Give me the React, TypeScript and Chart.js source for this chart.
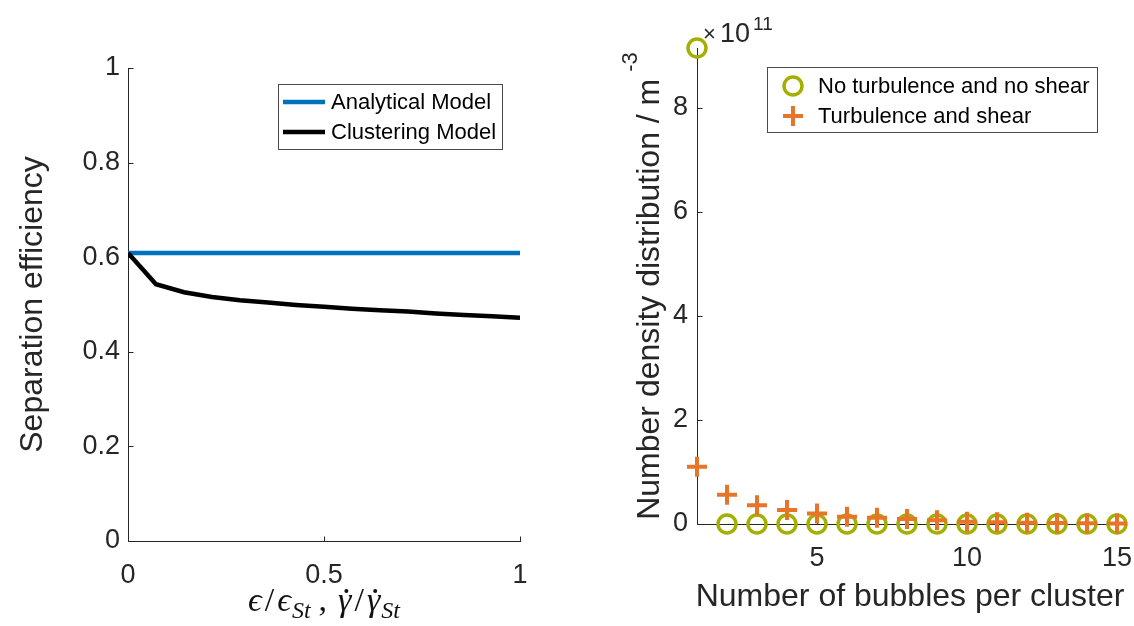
import React, { useEffect, useRef } from "react";
import { Chart, registerables } from "chart.js";
Chart.register(...registerables);

// ---------- data ----------
const ratioX = [0, 0.0714, 0.1429, 0.2143, 0.2857, 0.3571, 0.4286, 0.5, 0.5714, 0.6429, 0.7143, 0.7857, 0.8571, 0.9286, 1];
const analyticalEff = [0.609, 0.609, 0.609, 0.609, 0.609, 0.609, 0.609, 0.609, 0.609, 0.609, 0.609, 0.609, 0.609, 0.609, 0.609];
const clusteringEff = [0.609, 0.543, 0.526, 0.516, 0.509, 0.504, 0.499, 0.495, 0.491, 0.488, 0.485, 0.481, 0.478, 0.475, 0.472];

const bubblesPerCluster = [1, 2, 3, 4, 5, 6, 7, 8, 9, 10, 11, 12, 13, 14, 15];
const noTurbulence = [9.15e11, 0, 0, 0, 0, 0, 0, 0, 0, 0, 0, 0, 0, 0, 0];
const turbulenceShear = [1.1e11, 0.56e11, 0.36e11, 0.27e11, 0.2e11, 0.14e11, 0.12e11, 0.095e11, 0.07e11, 0.045e11, 0.035e11, 0.025e11, 0.02e11, 0.015e11, 0.01e11];

const leftXTicks = [0, 0.5, 1];
const leftYTicks = [0, 0.2, 0.4, 0.6, 0.8, 1];
const rightXTicks = [5, 10, 15];
const rightYTicks = [0, 2e11, 4e11, 6e11, 8e11];

const SANS = "'Liberation Sans', Arial, Helvetica, sans-serif";
const SERIF = "'Liberation Serif', 'DejaVu Serif', 'Times New Roman', serif";
const AXIS = "#262626";
const BLUE = "#0072BD";
const GREEN = "#A4B000";
const ORANGE = "#E8742A";
const TICK_FONT = 27;
const LABEL_FONT = 32;
const LEGEND_FONT = 22;

// ---------- plugins ----------
const axesPlugin = {
  id: "matlabAxes",
  beforeDatasetsDraw(chart: any) {
    const { ctx, chartArea: a, scales } = chart;
    ctx.save();
    ctx.strokeStyle = AXIS;
    ctx.lineWidth = 1;
    ctx.beginPath();
    const L = Math.round(a.left) + 0.5;
    const B = Math.round(a.bottom) + 0.5;
    ctx.moveTo(L, Math.round(a.top));
    ctx.lineTo(L, B);
    ctx.lineTo(Math.round(a.right) + 1, B);
    for (const t of scales.x.ticks) {
      const px = Math.round(scales.x.getPixelForValue(t.value)) + 0.5;
      ctx.moveTo(px, B);
      ctx.lineTo(px, B - 5);
    }
    for (const t of scales.y.ticks) {
      const py = Math.round(scales.y.getPixelForValue(t.value)) + 0.5;
      ctx.moveTo(L, py);
      ctx.lineTo(L + 5, py);
    }
    ctx.stroke();
    ctx.restore();
  },
};

function drawMarker(ctx: any, kind: string, x: number, y: number, color: string) {
  ctx.save();
  ctx.strokeStyle = color;
  ctx.beginPath();
  if (kind === "circle") {
    ctx.lineWidth = 3.5;
    ctx.arc(x, y, 9, 0, Math.PI * 2);
  } else if (kind === "cross") {
    ctx.lineWidth = 4;
    ctx.moveTo(x - 10, y);
    ctx.lineTo(x + 10, y);
    ctx.moveTo(x, y - 10);
    ctx.lineTo(x, y + 10);
  } else {
    ctx.lineWidth = 4.5;
    ctx.moveTo(x - 21, y);
    ctx.lineTo(x + 21, y);
  }
  ctx.stroke();
  ctx.restore();
}

const legendPlugin = {
  id: "boxLegend",
  afterDraw(chart: any, _args: any, opts: any) {
    if (!opts || !opts.box) return;
    const { ctx } = chart;
    const [bx, by, bw, bh] = opts.box;
    ctx.save();
    ctx.fillStyle = "#ffffff";
    ctx.fillRect(bx, by, bw, bh);
    ctx.strokeStyle = "#4a4a4a";
    ctx.lineWidth = 1;
    ctx.strokeRect(bx + 0.5, by + 0.5, bw, bh);
    ctx.font = `${LEGEND_FONT}px ${SANS}`;
    ctx.fillStyle = "#000";
    ctx.textBaseline = "middle";
    ctx.textAlign = "left";
    opts.items.forEach((it: any, i: number) => {
      const ds = chart.data.datasets[it.dataset];
      const y = opts.rows[i];
      drawMarker(ctx, it.kind, opts.sampleX, y, ds.borderColor);
      ctx.fillText(ds.label, opts.textX, y + 1);
    });
    ctx.restore();
  },
};

function drawPieces(ctx: any, pieces: any[], cx: number, baseline: number) {
  let total = 0;
  for (const p of pieces) {
    ctx.font = p.font;
    p.w = ctx.measureText(p.t).width;
    total += p.w + (p.gap || 0);
  }
  let x = cx - total / 2;
  ctx.textBaseline = "alphabetic";
  ctx.textAlign = "left";
  for (const p of pieces) {
    x += p.gap || 0;
    ctx.font = p.font;
    ctx.fillText(p.t, x, baseline + (p.dy || 0));
    if (p.dot) {
      ctx.beginPath();
      ctx.arc(x + p.w * 0.62, baseline - 20, 2, 0, Math.PI * 2);
      ctx.fill();
    }
    x += p.w;
  }
}

const leftTitlesPlugin = {
  id: "leftTitles",
  afterDraw(chart: any) {
    const { ctx, chartArea: a } = chart;
    ctx.save();
    ctx.fillStyle = AXIS;
    // y title
    ctx.translate(42, (a.top + a.bottom) / 2);
    ctx.rotate(-Math.PI / 2);
    ctx.font = `${LABEL_FONT}px ${SANS}`;
    ctx.textAlign = "center";
    ctx.textBaseline = "alphabetic";
    ctx.fillText("Separation efficiency", 0, 0);
    ctx.restore();

    ctx.save();
    ctx.fillStyle = "#111";
    const it = `italic 34px ${SERIF}`;
    const up = `34px ${SERIF}`;
    const sub = `italic 24px ${SERIF}`;
    drawPieces(
      ctx,
      [
        { t: "ϵ", font: it },
        { t: "/", font: up, gap: 3 },
        { t: "ϵ", font: it, gap: 3 },
        { t: "St", font: sub, dy: 7, gap: 1 },
        { t: ",", font: up, gap: 8 },
        { t: "γ", font: it, dot: true, gap: 11 },
        { t: "/", font: up, gap: 3 },
        { t: "γ", font: it, dot: true, gap: 3 },
        { t: "St", font: sub, dy: 7, gap: 1 },
      ],
      (a.left + a.right) / 2,
      611
    );
    ctx.restore();
  },
};

const rightTitlesPlugin = {
  id: "rightTitles",
  afterDraw(chart: any) {
    const { ctx, chartArea: a } = chart;
    ctx.save();
    ctx.fillStyle = AXIS;
    // x title
    ctx.font = `${LABEL_FONT}px ${SANS}`;
    ctx.textAlign = "center";
    ctx.textBaseline = "alphabetic";
    ctx.fillText("Number of bubbles per cluster", (a.left + a.right) / 2 + 3, 606);

    // y title with superscript
    ctx.save();
    ctx.translate(99, (a.top + a.bottom) / 2);
    ctx.rotate(-Math.PI / 2);
    const main = "Number density distribution / m";
    const sup = "-3";
    ctx.font = `${LABEL_FONT}px ${SANS}`;
    const wm = ctx.measureText(main).width;
    ctx.font = `22px ${SANS}`;
    const ws = ctx.measureText(sup).width;
    const gap = 7;
    const total = wm + gap + ws;
    ctx.textAlign = "left";
    ctx.font = `${LABEL_FONT}px ${SANS}`;
    ctx.fillText(main, -total / 2, 0);
    ctx.font = `22px ${SANS}`;
    ctx.fillText(sup, -total / 2 + wm + gap, -22);
    ctx.restore();

    // x10^11 exponent
    ctx.textAlign = "left";
    ctx.font = `22px ${SANS}`;
    ctx.fillText("×", a.left + 6, 41);
    ctx.font = `${TICK_FONT}px ${SANS}`;
    ctx.fillText("10", a.left + 23, 42);
    ctx.font = `19px ${SANS}`;
    ctx.fillText("11", a.left + 56, 30);
    ctx.restore();
  },
};

// x axes: label offset comes from tickLength (not counted in side padding)
const xGrid = { display: false, drawTicks: true, tickLength: 18 };
const yGrid = { display: false, drawTicks: false, tickLength: 0 };

// ---------- components ----------
function LeftChart() {
  const ref = useRef<HTMLCanvasElement | null>(null);
  useEffect(() => {
    if (!ref.current) return;
    const chart = new Chart(ref.current, {
      type: "line",
      data: {
        datasets: [
          {
            label: "Analytical Model",
            data: ratioX.map((x, i) => ({ x, y: analyticalEff[i] })),
            borderColor: BLUE,
            backgroundColor: BLUE,
            borderWidth: 4.5,
            pointRadius: 0,
            order: 2,
          },
          {
            label: "Clustering Model",
            data: ratioX.map((x, i) => ({ x, y: clusteringEff[i] })),
            borderColor: "#000000",
            backgroundColor: "#000000",
            borderWidth: 4.5,
            pointRadius: 0,
            order: 1,
          },
        ],
      },
      options: {
        responsive: false,
        animation: false,
        devicePixelRatio: 1,
        layout: { padding: { top: 68, right: 40, left: 0, bottom: 0 } },
        plugins: {
          legend: { display: false },
          tooltip: { enabled: false },
          boxLegend: {
            box: [278, 84, 224, 65],
            rows: [102, 132],
            sampleX: 304,
            textX: 331,
            items: [
              { dataset: 0, kind: "line" },
              { dataset: 1, kind: "line" },
            ],
          },
        } as any,
        scales: {
          x: {
            type: "linear",
            min: 0,
            max: 1,
            grid: xGrid,
            border: { display: false },
            afterFit: (s: any) => {
              s.height = 85;
            },
            afterBuildTicks: (s: any) => {
              s.ticks = leftXTicks.map((v) => ({ value: v }));
            },
            ticks: {
              font: { family: SANS, size: TICK_FONT },
              color: AXIS,
              padding: 0,
              maxRotation: 0,
              autoSkip: false,
              callback: (v: any) => String(v),
            },
          },
          y: {
            type: "linear",
            min: 0,
            max: 1,
            grid: yGrid,
            border: { display: false },
            afterFit: (s: any) => {
              s.width = 128;
            },
            afterBuildTicks: (s: any) => {
              s.ticks = leftYTicks.map((v) => ({ value: v }));
            },
            ticks: {
              font: { family: SANS, size: TICK_FONT },
              color: AXIS,
              padding: 8,
              autoSkip: false,
              callback: (v: any) => String(v),
            },
          },
        },
      } as any,
      plugins: [axesPlugin, legendPlugin, leftTitlesPlugin] as any,
    });
    return () => chart.destroy();
  }, []);
  return (
    <canvas
      ref={ref}
      width={560}
      height={626}
      style={{ position: "absolute", left: 0, top: 0, width: 560, height: 626 }}
    />
  );
}

function RightChart() {
  const ref = useRef<HTMLCanvasElement | null>(null);
  useEffect(() => {
    if (!ref.current) return;
    const chart = new Chart(ref.current, {
      type: "scatter",
      data: {
        datasets: [
          {
            label: "No turbulence and no shear",
            data: bubblesPerCluster.map((x, i) => ({ x, y: noTurbulence[i] })),
            borderColor: GREEN,
            backgroundColor: "rgba(0,0,0,0)",
            pointStyle: "circle",
            pointRadius: 9,
            pointBorderWidth: 3.5,
            clip: false,
            order: 2,
          },
          {
            label: "Turbulence and shear",
            data: bubblesPerCluster.map((x, i) => ({ x, y: turbulenceShear[i] })),
            borderColor: ORANGE,
            backgroundColor: ORANGE,
            pointStyle: "cross",
            pointRadius: 10,
            pointBorderWidth: 4,
            clip: false,
            order: 1,
          },
        ],
      },
      options: {
        responsive: false,
        animation: false,
        devicePixelRatio: 1,
        layout: { padding: { top: 48, right: 17, left: 0, bottom: 0 } },
        plugins: {
          legend: { display: false },
          tooltip: { enabled: false },
          boxLegend: {
            box: [207, 67, 330, 65],
            rows: [86, 116],
            sampleX: 233,
            textX: 258,
            items: [
              { dataset: 0, kind: "circle" },
              { dataset: 1, kind: "cross" },
            ],
          },
        } as any,
        scales: {
          x: {
            type: "linear",
            min: 1,
            max: 15,
            grid: xGrid,
            border: { display: false },
            afterFit: (s: any) => {
              s.height = 102;
            },
            afterBuildTicks: (s: any) => {
              s.ticks = rightXTicks.map((v) => ({ value: v }));
            },
            ticks: {
              font: { family: SANS, size: TICK_FONT },
              color: AXIS,
              padding: 0,
              maxRotation: 0,
              autoSkip: false,
              callback: (v: any) => String(v),
            },
          },
          y: {
            type: "linear",
            min: 0,
            max: 9.15e11,
            grid: yGrid,
            border: { display: false },
            afterFit: (s: any) => {
              s.width = 137;
            },
            afterBuildTicks: (s: any) => {
              s.ticks = rightYTicks.map((v) => ({ value: v }));
            },
            ticks: {
              font: { family: SANS, size: TICK_FONT },
              color: AXIS,
              padding: 9,
              autoSkip: false,
              callback: (v: any) => String(Math.round(v / 1e11)),
            },
          },
        },
      } as any,
      plugins: [axesPlugin, legendPlugin, rightTitlesPlugin] as any,
    });
    return () => chart.destroy();
  }, []);
  return (
    <canvas
      ref={ref}
      width={574}
      height={626}
      style={{ position: "absolute", left: 560, top: 0, width: 574, height: 626 }}
    />
  );
}

export default function App() {
  return (
    <div
      style={{
        position: "fixed",
        left: 0,
        top: 0,
        width: 1134,
        height: 626,
        background: "#ffffff",
        overflow: "hidden",
      }}
    >
      <LeftChart />
      <RightChart />
    </div>
  );
}
